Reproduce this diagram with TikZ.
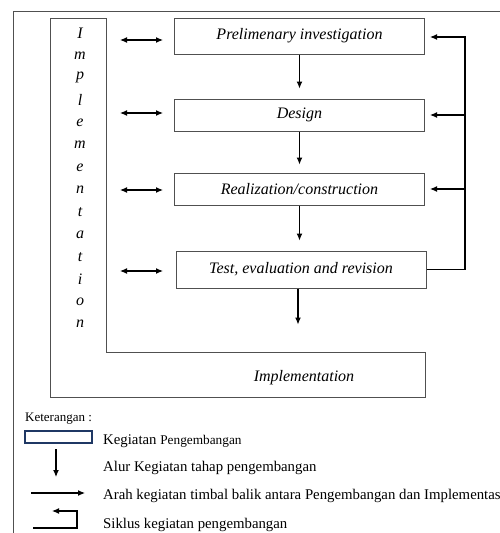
\documentclass[tikz,border=0pt]{standalone}
\usepackage{fontspec}
\setmainfont{Liberation Serif}
\usetikzlibrary{arrows.meta}
\definecolor{framegray}{HTML}{505050}
\definecolor{legendblue}{HTML}{1F3864}

\begin{document}
\begin{tikzpicture}[x=1pt, y=-1pt, >={Latex[length=7pt,width=6pt]}, line join=miter,
  stage/.style={draw=framegray, line width=1pt, minimum width=250pt, inner sep=0pt,
    font=\itshape\fontsize{16}{18}\selectfont},
  letter/.style={font=\itshape\fontsize{16}{18}\selectfont, inner sep=0pt},
  flow/.style={->, line width=1.1pt},
  note/.style={anchor=base west, inner sep=0pt, font=\fontsize{14.8}{17}\selectfont}]
  \useasboundingbox (0,0) rectangle (500,533);
  \clip (0,0) rectangle (500,533);

  % Outer frame
  \draw[framegray, line width=1pt] (500,11) -- (13,11) -- (13,533);

  % Implementation frame (L shape)
  \draw[framegray, line width=1pt] (50,18) -- (106,18) -- (106,352) -- (425,352)
    -- (425,397) -- (50,397) -- cycle;
  \node[letter] (impl) at (304,378) {Implementation};
  \foreach \ch [count=\i] in {I,m,p,l,e,m,e,n,t,a,t,i,o,n}
    \node[letter] (l\i) at (80,{33+(\i-1)*22.4}) {\ch};

  % Development stages
  \node[stage, minimum height=36pt] (prelim) at (299.5,36) {Prelimenary investigation};
  \node[stage, minimum height=32pt] (design) at (299.5,115) {Design};
  \node[stage, minimum height=32pt] (realiz) at (299.5,189) {Realization/construction};
  \node[stage, minimum height=37pt] (test) at (301,269.5) {Test, evaluation and revision};

  % Flow between stages
  \draw[flow, shorten >=10pt] (prelim.south) -- (design.north);
  \draw[flow, shorten >=8pt] (design.south) -- (realiz.north);
  \draw[flow, shorten >=10pt] (realiz.south) -- (realiz.south |- test.north);
  \draw[flow] ([xshift=-3pt]test.south) -- ++(0,36);

  % Feedback between implementation and development
  \foreach \y/\n in {40/1, 113/2, 190/3, 271/4} {
    \coordinate (ia\n) at (120,\y);
    \coordinate (ib\n) at (163,\y);
    \draw[<->, line width=1.1pt] (ia\n) -- (ib\n);
  }

  % Development cycle
  \coordinate (cyc) at (465,37);
  \draw[flow, shorten >=5pt] (test.east) -| (cyc) -- (prelim.east |- cyc);
  \draw[flow, shorten >=5pt] (cyc |- design.east) -- (design.east);
  \draw[flow, shorten >=5pt] (cyc |- realiz.east) -- (realiz.east);

  % Legend
  \node[anchor=base west, inner sep=0pt, font=\fontsize{13}{15}\selectfont] (leg) at (25,421) {Keterangan :};
  \draw[legendblue, line width=1.3pt] (25,431) rectangle (92,443);
  \node[note] (n1) at (103,444) {Kegiatan {\fontsize{13.3}{15}\selectfont Pengembangan}};
  \coordinate (d1) at (56,449);
  \coordinate (d2) at (56,477);
  \draw[flow] (d1) -- (d2);
  \node[note] (n2) at (103,471) {Alur Kegiatan tahap pengembangan};
  \coordinate (r1) at (31,493);
  \coordinate (r2) at (85,493);
  \draw[flow] (r1) -- (r2);
  \node[note] (n3) at (103,499) {Arah kegiatan timbal balik antara Pengembangan dan Implementasi};
  \coordinate (s1) at (33,528);
  \coordinate (s2) at (52,511);
  \draw[flow] (s1) -- (77,528) |- (s2);
  \node[note] (n4) at (103,528) {Siklus kegiatan pengembangan};
\end{tikzpicture}
\end{document}
